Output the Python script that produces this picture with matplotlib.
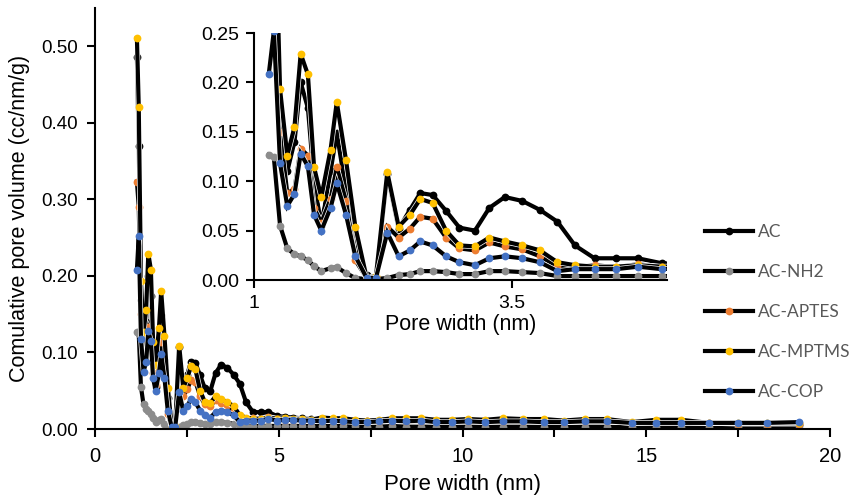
import matplotlib
matplotlib.use('Agg')
import matplotlib.pyplot as plt
import matplotlib.patheffects as pe
from matplotlib.ticker import FormatStrFormatter

# pore width (nm)
width = [1.14, 1.19, 1.25, 1.32, 1.39, 1.45, 1.52, 1.58, 1.65, 1.74, 1.80, 1.89, 1.98,
         2.09, 2.18, 2.29, 2.40, 2.51, 2.61, 2.73, 2.86, 2.99, 3.14, 3.28, 3.43, 3.60,
         3.77, 3.94, 4.11, 4.30, 4.51, 4.72, 4.95, 5.16, 5.38, 5.62, 5.87, 6.17, 6.47,
         6.75, 7.08, 7.41, 7.74, 8.09, 8.46, 8.87, 9.28, 9.70, 10.16, 10.62, 11.10,
         11.64, 12.21, 12.75, 13.32, 13.92, 14.60, 15.27, 15.95, 16.70, 17.50, 18.28, 19.16]

ac = [0.485, 0.370, 0.169, 0.110, 0.140, 0.200, 0.174, 0.100, 0.055, 0.110, 0.149, 0.090, 0.040,
      0.005, 0.003, 0.107, 0.052, 0.071, 0.088, 0.086, 0.070, 0.053, 0.050, 0.073, 0.084, 0.080,
      0.071, 0.059, 0.035, 0.022, 0.022, 0.022, 0.017, 0.016, 0.015, 0.014, 0.013, 0.012, 0.011,
      0.011, 0.010, 0.010, 0.009, 0.010, 0.010, 0.010, 0.009, 0.009, 0.009, 0.010, 0.011,
      0.008, 0.008, 0.008, 0.008, 0.008, 0.006, 0.006, 0.006, 0.006, 0.005, 0.005, 0.005]

ac_nh2 = [0.127, 0.124, 0.055, 0.032, 0.026, 0.024, 0.020, 0.014, 0.009, 0.012, 0.013, 0.007, 0.002,
          0.001, 0.001, 0.002, 0.005, 0.006, 0.009, 0.009, 0.008, 0.006, 0.006, 0.009, 0.009, 0.008,
          0.007, 0.004, 0.004, 0.004, 0.004, 0.004, 0.004, 0.004, 0.004, 0.004, 0.004, 0.004, 0.004,
          0.004, 0.004, 0.003, 0.003, 0.004, 0.003, 0.003, 0.003, 0.003, 0.003, 0.003, 0.003,
          0.003, 0.003, 0.003, 0.003, 0.003, 0.002, 0.002, 0.002, 0.002, 0.002, 0.002, 0.001]

ac_aptes = [0.323, 0.290, 0.150, 0.088, 0.092, 0.133, 0.126, 0.073, 0.058, 0.082, 0.114, 0.080, 0.020,
            0.002, 0.003, 0.054, 0.043, 0.052, 0.064, 0.062, 0.043, 0.032, 0.030, 0.038, 0.034, 0.031,
            0.024, 0.014, 0.013, 0.015, 0.013, 0.016, 0.013, 0.012, 0.012, 0.011, 0.011, 0.012, 0.012,
            0.011, 0.010, 0.010, 0.010, 0.011, 0.011, 0.011, 0.010, 0.010, 0.011, 0.010, 0.011,
            0.011, 0.010, 0.009, 0.010, 0.010, 0.008, 0.009, 0.009, 0.008, 0.007, 0.007, 0.007]

ac_mptms = [0.510, 0.420, 0.193, 0.126, 0.155, 0.229, 0.208, 0.114, 0.084, 0.132, 0.180, 0.121, 0.054,
            0.002, 0.004, 0.109, 0.054, 0.066, 0.082, 0.078, 0.050, 0.035, 0.034, 0.043, 0.039, 0.035,
            0.030, 0.018, 0.015, 0.0135, 0.0135, 0.015, 0.0135, 0.014, 0.013, 0.013, 0.012, 0.015, 0.014,
            0.014, 0.012, 0.011, 0.012, 0.014, 0.014, 0.014, 0.012, 0.012, 0.013, 0.012, 0.014,
            0.013, 0.013, 0.011, 0.013, 0.013, 0.009, 0.012, 0.012, 0.008, 0.008, 0.008, 0.008]

ac_cop = [0.208, 0.252, 0.118, 0.075, 0.087, 0.128, 0.115, 0.066, 0.050, 0.073, 0.098, 0.066, 0.024,
          0.002, 0.002, 0.048, 0.024, 0.030, 0.039, 0.035, 0.024, 0.018, 0.015, 0.022, 0.024, 0.022,
          0.018, 0.009, 0.011, 0.011, 0.011, 0.0135, 0.011, 0.012, 0.012, 0.011, 0.011, 0.010, 0.011,
          0.010, 0.009, 0.009, 0.010, 0.011, 0.010, 0.011, 0.009, 0.009, 0.010, 0.009, 0.010,
          0.010, 0.009, 0.009, 0.010, 0.010, 0.008, 0.008, 0.008, 0.008, 0.008, 0.008, 0.009]

names = ["AC", "AC-NH2", "AC-APTES", "AC-MPTMS", "AC-COP"]
series = [ac, ac_nh2, ac_aptes, ac_mptms, ac_cop]
colors = ["#000000", "#8c8c8c", "#ed7d31", "#ffc000", "#4472c4"]

plt.rcParams['font.family'] = 'Liberation Sans'
outline = [pe.Stroke(linewidth=4.0, foreground='white'), pe.Normal()]


def draw(ax, ms):
    handles = []
    for vals, name, c in zip(series, names, colors):
        ax.plot(width, vals, color='black', lw=3.0, path_effects=outline, solid_joinstyle='miter')
        ax.plot(width, vals, ls='none', marker='o', ms=ms, mfc=c, mec='none')
        h, = ax.plot([], [], color='black', lw=3.0, marker='o', ms=ms, mfc=c, mec='none')
        handles.append(h)
    ax.spines['top'].set_visible(False)
    ax.spines['right'].set_visible(False)
    ax.spines['left'].set_linewidth(1.5)
    ax.spines['bottom'].set_linewidth(1.5)
    return handles


fig = plt.figure(figsize=(8.53, 4.97), dpi=100)

# main chart
ax1 = fig.add_axes([0.1114, 0.1368, 0.8617, 0.8477])
handles = draw(ax1, 5.6)
ax1.set_xlim(0, 20)
ax1.set_ylim(0, 0.55)
ax1.set_xticks([0, 5, 10, 15, 20])
ax1.set_xticks([2.5, 7.5, 12.5, 17.5], minor=True)
ax1.set_yticks([0, 0.1, 0.2, 0.3, 0.4, 0.5])
ax1.yaxis.set_major_formatter(FormatStrFormatter('%.2f'))
ax1.tick_params(axis='x', which='both', length=6, width=1.5, labelsize=14.5, pad=7)
ax1.tick_params(axis='y', length=6, width=1.5, labelsize=13.5, pad=6)
ax1.set_xlabel("Pore width (nm)", fontsize=16, labelpad=6)
ax1.set_ylabel("Comulative pore volume (cc/nm/g)", fontsize=15.5, labelpad=8)

ax1.legend(handles, names, loc='center left', bbox_to_anchor=(0.826, 0.372),
           bbox_transform=fig.transFigure, frameon=False, borderpad=0, borderaxespad=0,
           handlelength=2.8, handletextpad=0.3, labelspacing=1.38,
           prop={'family': 'Lato', 'size': 12.5}, labelcolor='#595959')

# inset, zoom on 1-5 nm
ax2 = fig.add_axes([0.2981, 0.4366, 0.4835, 0.497])
draw(ax2, 5.6)
ax2.set_xlim(1, 5)
ax2.set_ylim(0, 0.25)
ax2.set_xticks([1, 3.5])
ax2.set_xticklabels(["1", "3.5"])
ax2.set_yticks([0, 0.05, 0.1, 0.15, 0.2, 0.25])
ax2.yaxis.set_major_formatter(FormatStrFormatter('%.2f'))
ax2.tick_params(axis='both', length=6, width=1.5, labelsize=14, pad=5)
ax2.set_xlabel("Pore width (nm)", fontsize=15.5, labelpad=1)

plt.savefig("out.png", dpi=100)
